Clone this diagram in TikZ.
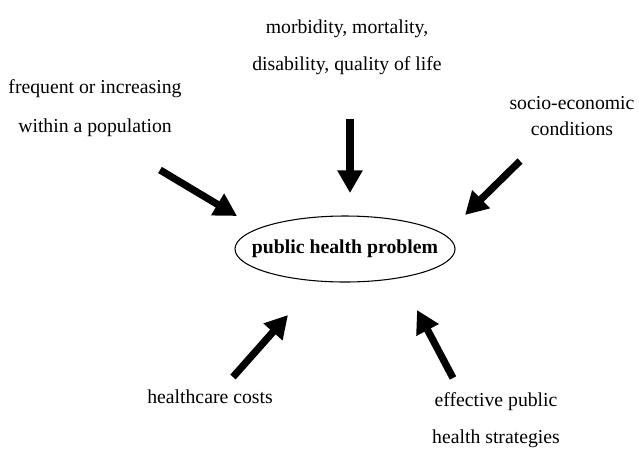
\documentclass[tikz,border=0pt]{standalone}
\usepackage{fontspec}
\setmainfont{Liberation Serif}
\usetikzlibrary{arrows.meta,shapes.geometric}

\begin{document}
\begin{tikzpicture}[x=0.75pt,y=-0.75pt,
  lbl/.style={font=\fontsize{14.8}{#1}\selectfont, align=center, inner sep=0pt},
  lbl/.default=27.5pt,
  core/.style={ellipse, draw, line width=0.8pt, minimum width=165pt, minimum height=49.5pt,
    inner xsep=-11.5pt, inner ysep=0pt, font=\fontsize{14.8}{18}\selectfont\bfseries},
  bigarr/.style={-{Triangle[length=17pt,width=18pt]}, line width=5.4pt}
]
\useasboundingbox (0,0) rectangle (639,472);
\node[core] (php) at (345,249) {public health problem};
\node[lbl] (harm)  at (347,47)  {morbidity, mortality,\\disability, quality of life};
\node[lbl=29pt] (freq)  at (95,108)  {frequent or increasing\\within a population};
\node[lbl=20pt] (socio) at (572,116) {socio-economic\\conditions};
\node[lbl] (cost)  at (210,397) {healthcare costs};
\node[lbl] (strat) at (496,420) {effective public\\health strategies};
\coordinate (harmA) at (350,119); \coordinate (harmB) at (350,193);
\coordinate (freqA) at (160,170); \coordinate (freqB) at (237,216);
\coordinate (socioA) at (520,161); \coordinate (socioB) at (465,215);
\coordinate (costA) at (233,377); \coordinate (costB) at (288,315);
\coordinate (stratA) at (453,378); \coordinate (stratB) at (417,310);
\draw[bigarr] (harmA) -- (harmB);
\draw[bigarr] (freqA) -- (freqB);
\draw[bigarr] (socioA) -- (socioB);
\draw[bigarr] (costA) -- (costB);
\draw[bigarr] (stratA) -- (stratB);
\end{tikzpicture}
\end{document}
